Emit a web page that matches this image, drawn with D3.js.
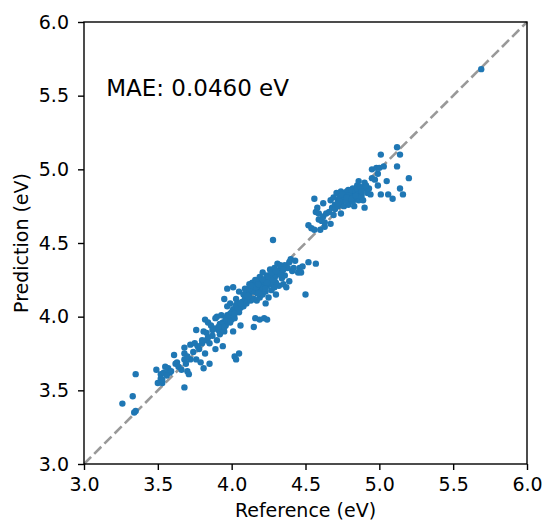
<!DOCTYPE html>
<html>
<head>
<meta charset="utf-8">
<script src="https://cdn.jsdelivr.net/npm/d3@7"></script>
<style>
  body { margin: 0; background: #fff; }
  svg { display: block; }
</style>
</head>
<body>
<div class="parity"></div>
<script>
// data (eV) ================================================= //
var reference = [
  3.26, 3.33, 3.35, 3.34, 3.35, 3.49, 3.50, 3.52, 3.53, 3.52, 3.55, 3.56, 3.57, 3.58, 3.54,
  3.61, 3.62, 3.63, 3.68, 3.68, 3.68, 3.68, 3.69, 3.70, 3.71, 3.72, 3.72, 3.75, 3.76, 3.76,
  3.78, 3.79, 3.80, 3.81, 3.81, 3.82, 3.82, 3.83, 3.83, 3.85, 3.85, 3.84, 3.86, 3.87, 3.87,
  3.89, 3.89, 3.90, 3.90, 3.91, 3.92, 3.92, 3.93, 3.93, 3.94, 3.94, 3.95, 3.96, 3.95, 3.96,
  3.97, 3.97, 3.97, 3.98, 3.99, 3.99, 4.00, 4.01, 4.01, 4.01, 4.02, 4.02, 4.03, 4.03, 4.03,
  4.04, 4.05, 4.05, 4.05, 4.06, 4.06, 4.07, 4.08, 4.08, 4.09, 4.09, 4.10, 4.10, 4.11, 4.12,
  4.12, 4.13, 4.13, 4.14, 4.15, 4.15, 4.15, 4.16, 4.16, 4.16, 4.17, 4.17, 4.18, 4.19, 4.19,
  4.19, 4.20, 4.20, 4.21, 4.21, 4.22, 4.22, 4.23, 4.23, 4.23, 4.24, 4.24, 4.25, 4.25, 4.26,
  4.26, 4.27, 4.28, 4.28, 4.28, 4.29, 4.29, 4.30, 4.30, 4.31, 4.32, 4.32, 4.33, 4.34, 4.34,
  4.35, 4.36, 4.36, 4.37, 4.38, 4.39, 4.39, 4.40, 4.41, 4.42, 4.43, 4.45, 4.46, 4.47, 4.48,
  4.50, 4.52, 4.57,
  4.14, 4.16, 4.18, 4.19, 4.21, 4.22, 4.24, 4.25, 4.26, 4.27, 4.28, 4.30, 4.31, 4.29, 4.33,
  4.17, 4.20, 4.23, 4.12, 4.11,
  3.93, 3.96, 3.98, 4.00, 4.02, 4.04, 3.95, 3.99, 4.03, 4.06,
  3.53, 3.56, 3.59, 3.64, 3.66, 3.70, 3.74, 3.77, 3.80, 3.84, 3.88, 3.91,
  4.13, 4.18, 4.21, 4.24, 4.27, 4.30, 4.33, 4.35,
  4.52, 4.54, 4.56, 4.56, 4.57, 4.58, 4.59, 4.59, 4.60, 4.61, 4.62, 4.62, 4.63, 4.63, 4.64,
  4.66, 4.67, 4.67, 4.68, 4.69, 4.69, 4.70, 4.70, 4.71, 4.72, 4.72, 4.73, 4.74, 4.74, 4.74,
  4.75, 4.76, 4.76, 4.77, 4.78, 4.78, 4.79, 4.79, 4.80, 4.81, 4.81, 4.82, 4.82, 4.83, 4.83,
  4.84, 4.85, 4.85, 4.86, 4.86, 4.87, 4.88, 4.88, 4.89, 4.90, 4.90, 4.91, 4.92, 4.93, 4.94,
  4.95, 4.95, 4.97, 4.98, 4.99, 4.99, 5.00, 5.01, 5.01, 5.03, 5.05, 5.06, 5.09, 5.12, 5.12,
  5.14, 5.14, 5.16, 5.20,
  4.76, 4.78, 4.80, 4.81, 4.83, 4.84, 4.86, 4.79, 4.82, 4.77, 4.85, 4.87, 4.74, 4.73, 4.72,
  4.75, 4.78, 4.81, 4.84, 4.88, 4.91,
  5.69
];
var prediction = [
  3.41, 3.46, 3.61, 3.35, 3.36, 3.64, 3.55, 3.61, 3.55, 3.58, 3.66, 3.61, 3.65, 3.62, 3.62,
  3.74, 3.68, 3.69, 3.52, 3.79, 3.75, 3.71, 3.68, 3.63, 3.61, 3.81, 3.71, 3.82, 3.91, 3.71,
  3.78, 3.69, 3.82, 3.65, 3.90, 3.75, 3.98, 3.84, 3.89, 3.82, 3.68, 3.96, 3.94, 3.87, 3.91,
  3.78, 3.99, 3.84, 4.00, 3.91, 3.88, 3.95, 4.01, 3.92, 3.80, 3.96, 3.90, 3.98, 4.12, 3.94,
  4.07, 4.19, 4.01, 3.97, 4.09, 4.02, 3.98, 4.20, 4.05, 3.90, 3.73, 3.99, 4.06, 3.71, 4.12,
  4.09, 4.03, 3.75, 4.17, 4.06, 3.94, 4.10, 4.15, 4.07, 4.12, 4.19, 4.09, 4.17, 4.11, 4.22,
  4.15, 4.19, 4.11, 4.23, 3.93, 4.17, 4.12, 4.21, 3.99, 4.25, 4.16, 4.11, 4.19, 4.27, 4.13,
  3.98, 4.17, 4.23, 4.30, 4.15, 3.99, 4.19, 4.09, 4.25, 4.17, 3.98, 4.28, 4.22, 4.13, 4.32,
  4.24, 4.18, 4.52, 4.30, 4.22, 4.26, 4.33, 4.15, 4.23, 4.36, 4.29, 4.21, 4.33, 4.26, 4.31,
  4.22, 4.35, 4.28, 4.20, 4.33, 4.37, 4.24, 4.39, 4.31, 4.33, 4.38, 4.30, 4.33, 4.30, 4.34,
  4.15, 4.37, 4.36,
  4.18, 4.20, 4.16, 4.22, 4.20, 4.24, 4.21, 4.27, 4.22, 4.29, 4.25, 4.28, 4.31, 4.20, 4.29,
  4.24, 4.26, 4.19, 4.19, 4.14,
  3.95, 3.99, 4.01, 4.03, 4.02, 4.06, 3.93, 3.96, 4.08, 4.09,
  3.57, 3.60, 3.63, 3.66, 3.64, 3.73, 3.76, 3.80, 3.84, 3.86, 3.92, 3.93,
  4.21, 4.22, 4.25, 4.23, 4.30, 4.31, 4.35, 4.32,
  4.62, 4.60, 4.59, 4.80, 4.71, 4.74, 4.66, 4.70, 4.59, 4.65, 4.68, 4.77, 4.61, 4.64, 4.70,
  4.71, 4.63, 4.79, 4.74, 4.69, 4.81, 4.76, 4.73, 4.84, 4.79, 4.75, 4.81, 4.70, 4.85, 4.77,
  4.82, 4.80, 4.75, 4.84, 4.79, 4.82, 4.86, 4.76, 4.81, 4.84, 4.79, 4.87, 4.82, 4.75, 4.85,
  4.80, 4.89, 4.83, 4.79, 4.92, 4.86, 4.82, 4.84, 4.79, 4.74, 4.91, 4.87, 4.84, 4.87, 4.83,
  5.00, 4.94, 4.93, 5.01, 4.89, 4.97, 5.01, 5.10, 4.83, 5.02, 4.92, 4.83, 4.80, 5.15, 5.02,
  5.10, 4.87, 4.83, 4.94,
  4.82, 4.85, 4.83, 4.86, 4.81, 4.85, 4.84, 4.80, 4.78, 4.79, 4.87, 4.88, 4.80, 4.78, 4.77,
  4.83, 4.81, 4.80, 4.82, 4.85, 4.89,
  5.68
];
var ticks = [3.0, 3.5, 4.0, 4.5, 5.0, 5.5, 6.0];
var maeText = "MAE: 0.0460 eV";

// chart ===================================================== //
var width = 545,
  height = 523;
var margin = { top: 22, right: 18, bottom: 59, left: 84 };

var svg = d3
  .select(".parity")
  .append("svg")
  .attr("width", width)
  .attr("height", height)
  .style("font-family", "'DejaVu Sans', sans-serif");

var x = d3
  .scaleLinear()
  .domain([3, 6])
  .range([margin.left, width - margin.right]);
var y = d3
  .scaleLinear()
  .domain([3, 6])
  .range([height - margin.bottom, margin.top]);

var points = reference.map(function (d, i) {
  return { ref: d, pred: prediction[i] };
});

// parity line
svg
  .append("line")
  .attr("x1", x(3))
  .attr("y1", y(3))
  .attr("x2", x(6))
  .attr("y2", y(6))
  .attr("stroke", "#999999")
  .attr("stroke-width", 2.6)
  .attr("stroke-dasharray", "10,4.4");

// scatter
svg
  .append("g")
  .selectAll("circle")
  .data(points)
  .enter()
  .append("circle")
  .attr("cx", function (d) {
    return x(d.ref);
  })
  .attr("cy", function (d) {
    return y(d.pred);
  })
  .attr("r", 3.2)
  .attr("fill", "#1f77b4");

// axes
var xAxis = svg
  .append("g")
  .attr("transform", "translate(0," + y(3) + ")")
  .call(
    d3.axisBottom(x).tickValues(ticks).tickFormat(d3.format(".1f")).tickSize(6).tickPadding(8)
  );
var yAxis = svg
  .append("g")
  .attr("transform", "translate(" + x(3) + ",0)")
  .call(
    d3.axisLeft(y).tickValues(ticks).tickFormat(d3.format(".1f")).tickSize(6).tickPadding(9)
  );
[xAxis, yAxis].forEach(function (a) {
  a.select(".domain").remove();
  a.selectAll("line").attr("stroke", "#000").attr("stroke-width", 1.4);
  a.selectAll("text")
    .attr("fill", "#000")
    .style("font-size", "19px")
    .style("font-family", "'DejaVu Sans', sans-serif");
});

// frame
svg
  .append("rect")
  .attr("x", x(3))
  .attr("y", y(6))
  .attr("width", x(6) - x(3))
  .attr("height", y(3) - y(6))
  .attr("fill", "none")
  .attr("stroke", "#000")
  .attr("stroke-width", 1.4);

// labels
svg
  .append("text")
  .attr("x", (x(3) + x(6)) / 2)
  .attr("y", 517)
  .attr("text-anchor", "middle")
  .style("font-size", "19px")
  .text("Reference (eV)");

svg
  .append("text")
  .attr("transform", "translate(28," + (y(3) + y(6)) / 2 + ") rotate(-90)")
  .attr("text-anchor", "middle")
  .style("font-size", "19px")
  .text("Prediction (eV)");

svg
  .append("text")
  .attr("x", x(3.15))
  .attr("y", y(5.5))
  .style("font-size", "23px")
  .text(maeText);
</script>
</body>
</html>
